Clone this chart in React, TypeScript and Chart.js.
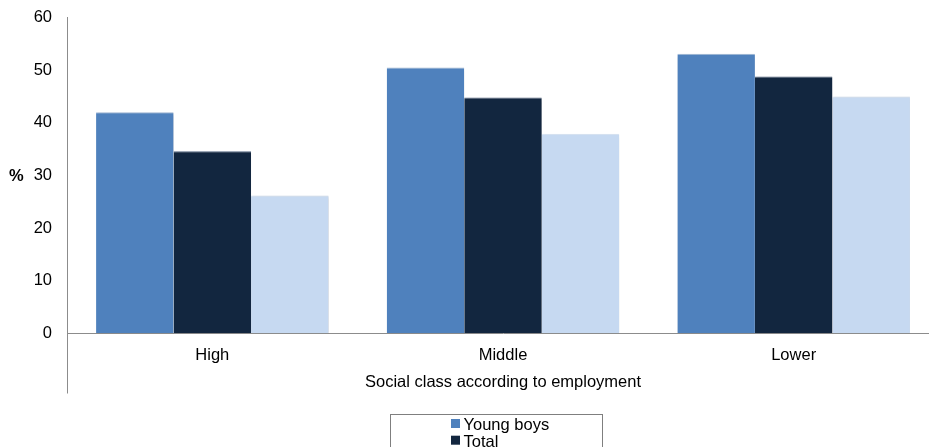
import React, { useEffect, useRef } from "react";
import { Chart, registerables } from "chart.js";

Chart.register(...registerables);

const categories = ["High", "Middle", "Lower"];
const seriesNames = ["Young boys", "Total", "Young girls"];
const youngBoys = [42.0, 50.5, 53.1];
const total = [34.6, 44.8, 48.8];
const youngGirls = [26.2, 37.9, 45.0];
const yTicks = [0, 10, 20, 30, 40, 50, 60];
const yAxisLabel = "%";
const xAxisTitle = "Social class according to employment";

const COLORS = ["#4F81BD", "#12263F", "#C6D9F1"];
const TOP_EDGE = ["#A7BEDC", "#5B6E88", "#D9E5F5"];
const FONT = "'Liberation Sans', Arial, sans-serif";
const FS = 16.5;

const W = 945;
const H = 470;
const PLOT_TOP = 17.5;
const PLOT_BOTTOM = 333.3;

const extrasPlugin = {
  id: "extras",
  beforeDatasetsDraw(chart: any) {
    const ctx = chart.ctx;
    ctx.save();
    ctx.shadowColor = "rgba(0,0,0,0.22)";
    ctx.shadowBlur = 3;
    ctx.shadowOffsetX = 1;
    ctx.shadowOffsetY = 1;
  },
  afterDatasetsDraw(chart: any) {
    chart.ctx.restore();
  },
  afterDraw(chart: any) {
    const ctx = chart.ctx;
    const area = chart.chartArea;
    ctx.save();
    // vertical axis continues through the category label band
    ctx.strokeStyle = "#8C8C8C";
    ctx.lineWidth = 1;
    ctx.beginPath();
    ctx.moveTo(area.left + 0.5, area.bottom);
    ctx.lineTo(area.left + 0.5, 393.5);
    ctx.stroke();

    // value axis unit label
    ctx.fillStyle = "#000";
    ctx.font = `bold ${FS}px ${FONT}`;
    ctx.textAlign = "left";
    ctx.textBaseline = "middle";
    ctx.fillText(yAxisLabel, 9, 176);

    // category axis title
    ctx.font = `${FS}px ${FONT}`;
    ctx.textAlign = "center";
    ctx.textBaseline = "alphabetic";
    ctx.fillText(xAxisTitle, (area.left + area.right) / 2, 387);

    // legend box below the chart
    const bx = 390.5;
    const by = 414.5;
    ctx.strokeStyle = "#7F7F7F";
    ctx.strokeRect(bx, by, 212, 80);
    ctx.textAlign = "left";
    seriesNames.forEach((name, i) => {
      const base = 430 + i * 16.7;
      ctx.fillStyle = COLORS[i];
      ctx.fillRect(451, base - 11, 9, 9);
      ctx.fillStyle = "#000";
      ctx.fillText(name, 463.5, base);
    });
    ctx.restore();
  },
};

export default function App() {
  const canvasRef = useRef<HTMLCanvasElement | null>(null);

  useEffect(() => {
    document.body.style.margin = "0";
    const canvas = canvasRef.current;
    if (!canvas) return;
    const datasets = [youngBoys, total, youngGirls].map((data, i) => ({
      label: seriesNames[i],
      data,
      backgroundColor: COLORS[i],
      borderColor: TOP_EDGE[i],
      borderWidth: { top: 1, left: 0, right: 0, bottom: 0 },
      borderSkipped: "bottom" as const,
      categoryPercentage: 0.8,
      barPercentage: 1.0,
    }));
    const chart = new Chart(canvas, {
      type: "bar",
      data: { labels: categories, datasets },
      plugins: [extrasPlugin],
      options: {
        responsive: false,
        animation: false,
        events: [],
        layout: { padding: { top: PLOT_TOP, right: 6, left: 0, bottom: H - PLOT_BOTTOM - 60 } },
        plugins: {
          legend: { display: false },
          tooltip: { enabled: false },
          title: { display: false },
        },
        scales: {
          x: {
            grid: { display: false, drawTicks: false },
            border: { display: true, color: "#8C8C8C", width: 1 },
            ticks: {
              color: "#000",
              font: { family: FONT, size: FS },
              padding: 12,
              maxRotation: 0,
            },
            afterFit(scale: any) {
              scale.height = 60;
              scale.paddingLeft = 0;
              scale.paddingRight = 0;
            },
          },
          y: {
            min: 0,
            max: 60,
            afterBuildTicks(scale: any) {
              scale.ticks = yTicks.map((v) => ({ value: v }));
            },
            grid: { display: false, drawTicks: false },
            border: { display: true, color: "#8C8C8C", width: 1 },
            ticks: {
              color: "#000",
              font: { family: FONT, size: FS },
              padding: 15,
            },
            afterFit(scale: any) {
              scale.width = 67;
              scale.paddingTop = 0;
              scale.paddingBottom = 0;
            },
          },
        },
      },
    });
    return () => chart.destroy();
  }, []);

  return (
    <div
      style={{
        position: "fixed",
        left: 0,
        top: 0,
        width: 929,
        height: 447,
        overflow: "hidden",
        background: "#fff",
      }}
    >
      <canvas
        ref={canvasRef}
        width={W}
        height={H}
        style={{ width: W, height: H, display: "block" }}
      />
    </div>
  );
}
